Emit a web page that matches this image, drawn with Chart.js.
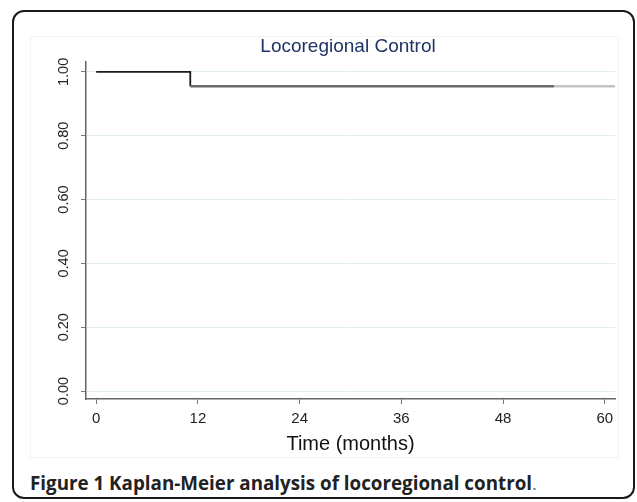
<!DOCTYPE html>
<html>
<head>
<meta charset="utf-8">
<script src="https://cdn.jsdelivr.net/npm/chart.js@4.4.1/dist/chart.umd.min.js"></script>
<style>
  html, body { margin: 0; padding: 0; background: #fff; }
  body { width: 637px; height: 502px; position: relative; overflow: hidden; }
  #frame { position: absolute; left: 12px; top: 10px; width: 623px; height: 489px;
           border: 2px solid #1a1a1a; border-radius: 12px; box-sizing: border-box; }
  #imgbox { position: absolute; left: 30px; top: 36px; width: 589px; height: 422px;
            border: 1px solid #f3f3f3; box-sizing: border-box; }
  #wrap { position: absolute; left: 0; top: 0; width: 637px; height: 460px; }
  #caption { position: absolute; left: 30px; top: 471px; font-family: "Open Sans", sans-serif;
             font-size: 18.8px; font-weight: 700; color: #222; white-space: nowrap; line-height: 24px; }
  #caption .p { font-weight: 400; color: #777; }
</style>
</head>
<body>
<div id="frame"></div>
<div id="imgbox"></div>
<div id="wrap"><canvas id="c"></canvas></div>
<div id="caption">Figure 1 Kaplan-Meier analysis of locoregional control<span class="p">.</span></div>
<script>
// Kaplan-Meier step data
const times = [0, 11.1, 54, 61.2];
const survival = [1.0, 0.955, 0.955, 0.955];
const xTicks = [0, 12, 24, 36, 48, 60];
const yTicks = [0, 0.2, 0.4, 0.6, 0.8, 1.0];
const yTickLabels = ["0.00", "0.20", "0.40", "0.60", "0.80", "1.00"];
const segmentColors = ["#1a1a1a", "#6a6a6a", "#c4c4c4"];
const segmentWidths = [1.8, 2.6, 2.6];

const yLabelPlugin = {
  id: 'yLabels',
  afterDraw(chart) {
    const ctx = chart.ctx;
    const ys = chart.scales.y;
    ctx.save();
    ctx.font = '14.5px Arial, "Liberation Sans", sans-serif';
    ctx.fillStyle = '#222';
    ctx.textAlign = 'center';
    ctx.textBaseline = 'middle';
    yTicks.forEach((v, i) => {
      const py = ys.getPixelForValue(v);
      ctx.save();
      ctx.translate(64, py);
      ctx.rotate(-Math.PI / 2);
      ctx.fillText(yTickLabels[i], 0, 0);
      ctx.restore();
    });
    ctx.restore();
  }
};

new Chart(document.getElementById('c'), {
  type: 'line',
  data: {
    datasets: [{
      data: times.map((t, i) => ({ x: t, y: survival[i] })),
      stepped: true,
      borderColor: segmentColors[0],
      borderWidth: 2,
      pointRadius: 0,
      fill: false,
      segment: {
        borderColor: c => segmentColors[c.p0DataIndex],
        borderWidth: c => segmentWidths[c.p0DataIndex]
      }
    }]
  },
  options: {
    responsive: true,
    maintainAspectRatio: false,
    animation: false,
    layout: { padding: { left: 81, right: 22, top: 0, bottom: 6 } },
    plugins: {
      legend: { display: false },
      tooltip: { enabled: false },
      title: {
        display: true,
        text: 'Locoregional Control',
        color: '#1f3366',
        font: { family: 'Arial, "Liberation Sans", sans-serif', size: 19, weight: 'normal', lineHeight: 1.2 },
        padding: { top: 35.6, bottom: 3.6 }
      }
    },
    scales: {
      x: {
        type: 'linear',
        min: -1.2,
        max: 61.2,
        afterBuildTicks: s => { s.ticks = xTicks.map(v => ({ value: v })); },
        grid: { display: true, drawOnChartArea: false, drawTicks: true, tickLength: 5, tickColor: '#777' },
        border: { display: true, color: '#666', width: 1.5 },
        ticks: {
          color: '#222', padding: 6, maxRotation: 0,
          font: { family: 'Arial, "Liberation Sans", sans-serif', size: 15, lineHeight: 1.2 },
          callback: v => String(v)
        },
        title: {
          display: true, text: 'Time (months)', color: '#111',
          font: { family: 'Arial, "Liberation Sans", sans-serif', size: 20, lineHeight: 1.0 },
          padding: { top: 0, bottom: 0 }
        }
      },
      y: {
        type: 'linear',
        min: -0.025,
        max: 1.031,
        afterBuildTicks: s => { s.ticks = yTicks.map(v => ({ value: v })); },
        grid: { display: true, color: 'rgba(200,225,228,0.55)', lineWidth: 1, drawTicks: true, tickLength: 5, tickColor: '#777' },
        border: { display: true, color: '#666', width: 1.5 },
        ticks: { display: false }
      }
    }
  },
  plugins: [yLabelPlugin]
});
</script>
</body>
</html>
